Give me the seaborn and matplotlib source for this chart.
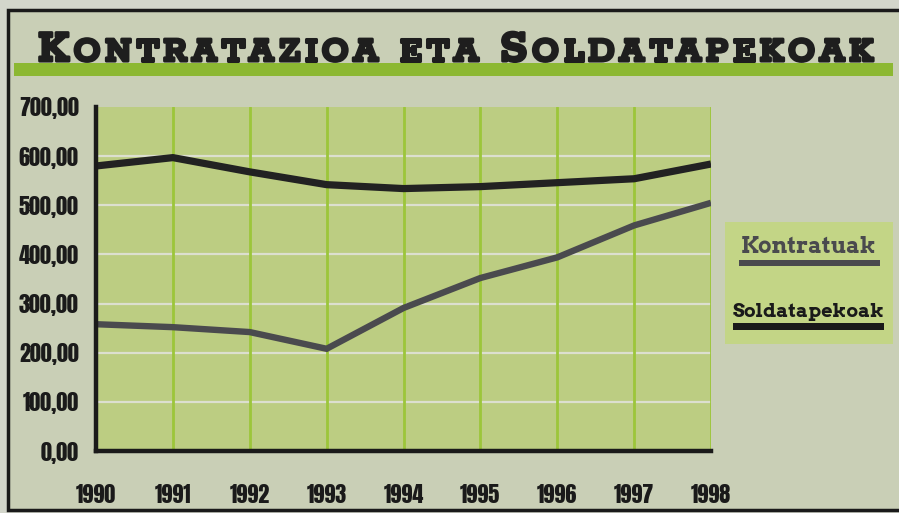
import matplotlib
matplotlib.use("Agg")
import matplotlib.pyplot as plt
import matplotlib.patheffects as pe
import seaborn as sns
import pandas as pd
from matplotlib.patches import Rectangle

years = [1990, 1991, 1992, 1993, 1994, 1995, 1996, 1997, 1998]
kontratuak = [258, 252, 242, 208, 291, 352, 394, 459, 505]
soldatapekoak = [580, 597, 568, 542, 534, 538, 546, 554, 584]
yticks = [0, 100, 200, 300, 400, 500, 600, 700]
ytick_labels = ["0,00", "100,00", "200,00", "300,00", "400,00", "500,00", "600,00", "700,00"]
series_names = ["Kontratuak", "Soldatapekoak"]
title_parts = [("K", True), ("ONTRATAZIOA ETA ", False), ("S", True), ("OLDATAPEKOAK", False)]

df = pd.DataFrame({
    "year": years * 2,
    "value": kontratuak + soldatapekoak,
    "serie": [series_names[0]] * len(years) + [series_names[1]] * len(years),
})

sns.set_theme(style="white")
W, H = 899, 513
fig = plt.figure(figsize=(W / 100, H / 100), dpi=100)
fig.patch.set_facecolor("#d3d6cb")

def fx(px):
    return px / W

def fy(py):
    return 1 - py / H

# panel background and frame
fig.patches.append(Rectangle((fx(8), fy(510)), fx(899) - fx(8) + 0.01, fy(10) - fy(510),
                             transform=fig.transFigure, facecolor="#c9cfb6",
                             edgecolor="#1a1a1a", linewidth=2.5, zorder=-2))
# green title bar
fig.patches.append(Rectangle((fx(14), fy(76)), fx(893) - fx(14), fy(63) - fy(76),
                             transform=fig.transFigure, facecolor="#8cb832",
                             edgecolor="none", zorder=-1))
# legend box
fig.patches.append(Rectangle((fx(725), fy(344)), fx(893) - fx(725), fy(222) - fy(344),
                             transform=fig.transFigure, facecolor="#c3d586",
                             edgecolor="none", zorder=-1))

ax = fig.add_axes([fx(96), fy(451), fx(711) - fx(96), fy(107) - fy(451)])
ax.set_zorder(3)
ax.set_facecolor("#bccd82")
palette = {series_names[0]: "#4a4a4e", series_names[1]: "#222222"}
sns.lineplot(data=df, x="year", y="value", hue="serie", palette=palette,
             ax=ax, legend=False, linewidth=5.0, sort=False)
for ln, lw in zip(ax.get_lines(), [4.6, 5.2]):
    ln.set_linewidth(lw)
    ln.set_solid_joinstyle("miter")
    ln.set_solid_capstyle("butt")
    ln.set_zorder(5)

ax.set_xlim(years[0], years[-1])
ax.set_ylim(0, 700)
ax.set_xticks(years)
ax.set_xticklabels([str(y) for y in years])
ax.set_yticks(yticks)
ax.set_yticklabels(ytick_labels)
ax.set_xlabel("")
ax.set_ylabel("")

for y in yticks[1:-1]:
    ax.axhline(y, color="#dcdfcf", linewidth=1.6, zorder=1)
for x in years[1:]:
    ax.axvline(x, color="#9cc63a", linewidth=2.0, zorder=2)

for s in ["top", "right"]:
    ax.spines[s].set_visible(False)
for s in ["left", "bottom"]:
    ax.spines[s].set_color("#1a1a1a")
    ax.spines[s].set_linewidth(3.2)
    ax.spines[s].set_zorder(6)

tick_family = ["Anton", "DejaVu Sans"]
ax.tick_params(axis="both", which="major", direction="inout", length=13, width=3,
               color="#1a1a1a", labelcolor="#1a1a1a")
ax.tick_params(axis="y", pad=6)
ax.tick_params(axis="x", pad=17)
for lab in ax.get_xticklabels() + ax.get_yticklabels():
    lab.set_fontfamily(tick_family)
    lab.set_fontsize(16)

# legend
fig.text(fx(809), fy(253), series_names[0], ha="center", va="baseline", fontsize=16,
         fontweight="bold", family=["Arvo", "DejaVu Serif"], color="#4a4a4e")
fig.patches.append(Rectangle((fx(739), fy(266)), fx(880) - fx(739), fy(260) - fy(266),
                             transform=fig.transFigure, facecolor="#4a4a4e", edgecolor="none", zorder=2))
fig.text(fx(809), fy(317), series_names[1], ha="center", va="baseline", fontsize=14,
         fontweight="bold", family=["Arvo", "DejaVu Serif"], color="#1a1a1a")
fig.patches.append(Rectangle((fx(733), fy(330)), fx(884) - fx(733), fy(323) - fy(330),
                             transform=fig.transFigure, facecolor="#1a1a1a", edgecolor="none", zorder=2))

# small-caps title, letter-spaced to span the header
fig.canvas.draw()
renderer = fig.canvas.get_renderer()
chars = []
for txt, big in title_parts:
    for ch in txt:
        chars.append((ch, big))
ybase = fy(61)
texts = []
widths = []
heavy = [pe.withStroke(linewidth=2.2, foreground="#1e1e1e")]
for ch, big in chars:
    t = fig.text(0, ybase, ch if ch != " " else "\u00a0", ha="left", va="baseline",
                 fontsize=35 if big else 27, fontweight="bold",
                 family=["Rokkitt", "DejaVu Serif"], color="#1e1e1e",
                 path_effects=heavy)
    bb = t.get_window_extent(renderer=renderer)
    w = bb.width if ch != " " else 12
    texts.append(t)
    widths.append(w)
x0, x1 = 38, 873
extra = (x1 - x0 - sum(widths)) / (len(chars) - 1)
xp = x0
for t, w in zip(texts, widths):
    t.set_x(fx(xp))
    xp += w + extra

fig.savefig("out.png", dpi=100, facecolor=fig.get_facecolor())
